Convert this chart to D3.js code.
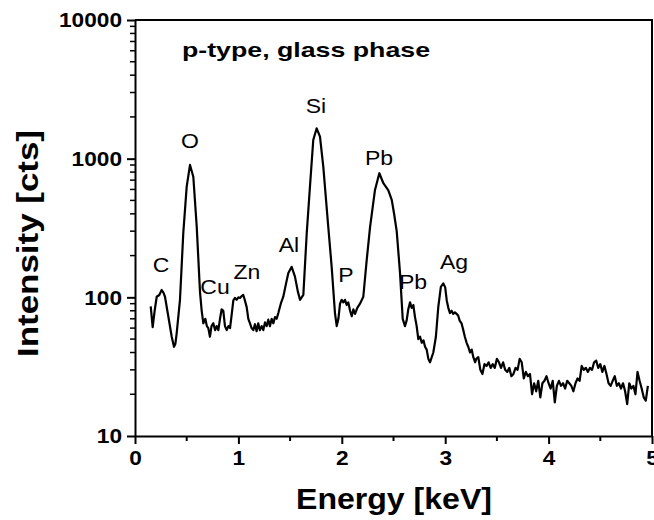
<!DOCTYPE html>
<html><head><meta charset="utf-8">
<script src="https://cdn.jsdelivr.net/npm/d3@7"></script>
<style>body{margin:0;background:#fff;} text{font-family:Arial,"Liberation Sans",sans-serif;}</style>
</head><body><svg id="c" width="654" height="520"></svg>
<script>
const energy = [0.152,0.171,0.19,0.21,0.235,0.258,0.275,0.29,0.322,0.355,0.377,0.39,0.403,0.435,0.467,0.5,0.532,0.564,0.597,0.629,0.645,0.661,0.68,0.695,0.709,0.725,0.74,0.757,0.775,0.79,0.806,0.822,0.838,0.854,0.87,0.887,0.903,0.919,0.935,0.951,0.967,0.983,1.0,1.015,1.031,1.047,1.063,1.08,1.096,1.112,1.128,1.144,1.16,1.176,1.192,1.208,1.225,1.241,1.257,1.273,1.289,1.305,1.322,1.338,1.354,1.37,1.386,1.41,1.434,1.46,1.483,1.515,1.547,1.575,1.596,1.628,1.661,1.692,1.724,1.757,1.789,1.821,1.869,1.902,1.934,1.951,1.967,1.983,1.999,2.015,2.031,2.047,2.063,2.08,2.096,2.112,2.128,2.15,2.176,2.208,2.241,2.273,2.321,2.363,2.402,2.45,2.483,2.505,2.531,2.563,2.589,2.611,2.627,2.643,2.66,2.676,2.692,2.708,2.724,2.74,2.757,2.773,2.79,2.805,2.821,2.837,2.853,2.885,2.91,2.933,2.958,2.982,3.0,3.015,3.03,3.046,3.062,3.078,3.094,3.11,3.125,3.14,3.158,3.175,3.19,3.207,3.223,3.24,3.256,3.272,3.29,3.30,3.32,3.34,3.36,3.38,3.40,3.42,3.44,3.46,3.48,3.50,3.52,3.54,3.56,3.58,3.60,3.62,3.64,3.66,3.68,3.70,3.72,3.74,3.76,3.78,3.80,3.82,3.84,3.86,3.88,3.90,3.92,3.94,3.96,3.98,4.00,4.02,4.04,4.06,4.08,4.10,4.12,4.14,4.16,4.18,4.20,4.22,4.24,4.26,4.28,4.30,4.32,4.34,4.36,4.38,4.40,4.42,4.44,4.46,4.48,4.50,4.52,4.54,4.56,4.58,4.60,4.62,4.64,4.66,4.68,4.70,4.72,4.74,4.76,4.78,4.80,4.82,4.84,4.86,4.88,4.90,4.92,4.94,4.96,4.98,5.00];
const counts = [86,61,80,101,104,113,108,101,73,52,44,46,55,96,291,628,901,741,323,108,80,65,70,62,60,52,62,65,58,62,58,70,82,80,62,58,62,60,75,95,99,96,100,99,102,104,95,85,70,65,60,58,64,57,65,58,62,58,66,62,69,62,70,65,72,70,77,90,101,125,150,166,141,110,96,104,291,628,1364,1656,1442,876,323,166,77,62,70,90,96,92,96,88,92,80,73,82,76,84,90,101,186,320,595,785,665,590,504,404,300,150,70,62,68,82,92,84,88,72,62,50,52,47,49,44,42,36,34,40,52,85,119,126,118,95,84,77,80,76,78,76,74,68,65,58,52,47,44,40,42,37,34,36,37,30,28,33,32,34,31,33,31,36,34,31,34,30,29,31,27,28,31,30,36,34,26,29,27,28,20,24,21,25,19,24,25,27,24,22,25,17.5,23,25,23,24,22,25,24,23,21,24,26,25,32,30,31,29,31,30,34,35,31,33,29,32,28,24,23,25,27,23,24,22,24,21,17,24,22,23,20,29,25,22,19,18,23];
const peakLabels = ["C","O","Cu","Zn","Al","Si","P","Pb","Pb","Ag"];
const peakEnergy = [0.251,0.532,0.774,1.083,1.489,1.750,2.041,2.360,2.689,3.085];
const peakCounts = [152,1190,106,135,212,2130,130,900,115,160];
const xTicks = [0,1,2,3,4,5];
const yTicks = [10,100,1000,10000];
const title = "p-type, glass phase";

const svg = d3.select("#c");
const L=135, R=652, T=20, B=436;
const x = d3.scaleLinear().domain([0,5]).range([L,R]);
const y = d3.scaleLog().domain([10,10000]).range([B,T]);

svg.append("clipPath").attr("id","cp").append("rect").attr("x",L).attr("y",T).attr("width",R-L).attr("height",B-T);

const line = d3.line().x((d,i)=>x(energy[i])).y((d,i)=>y(counts[i]));
svg.append("path").datum(counts).attr("d",line).attr("fill","none").attr("stroke","#000")
  .attr("stroke-width",2.2).attr("stroke-linejoin","round").attr("clip-path","url(#cp)");

// frame
svg.append("path").attr("d",`M${L},${T}H${R}V${B}`).attr("fill","none").attr("stroke","#000").attr("stroke-width",2);

function stretch(sel, perChar){
  sel.each(function(){
    const t=d3.select(this); const n=t.text().length;
    t.attr("textLength", n*perChar).attr("lengthAdjust","spacingAndGlyphs");
  });
}

// x axis
const minorX = d3.range(0.5,5,1);
const xa = svg.append("g").attr("transform",`translate(0,${B})`)
  .call(d3.axisBottom(x).tickValues(xTicks).tickFormat(d3.format("d")).tickSizeInner(8).tickSizeOuter(0).tickPadding(6));
xa.select(".domain").attr("stroke-width",2);
xa.selectAll(".tick line").attr("stroke-width",2);
xa.selectAll("text").attr("font-size",21).attr("font-weight","bold").attr("fill","#000");
stretch(xa.selectAll("text"),12.6);
svg.append("g").attr("transform",`translate(0,${B})`).selectAll("line").data(minorX).join("line")
  .attr("x1",d=>x(d)).attr("x2",d=>x(d)).attr("y1",0).attr("y2",5).attr("stroke","#000").attr("stroke-width",2);

// y axis
const ya = svg.append("g").attr("transform",`translate(${L},0)`)
  .call(d3.axisLeft(y).tickValues(yTicks).tickFormat(d3.format("d")).tickSizeInner(8).tickSizeOuter(0).tickPadding(5));
ya.select(".domain").attr("stroke-width",2);
ya.selectAll(".tick line").attr("stroke-width",2);
ya.selectAll("text").attr("font-size",21).attr("font-weight","bold").attr("fill","#000");
stretch(ya.selectAll("text"),12.6);
const minorY = [];
[10,100,1000].forEach(dec=>{for(let k=2;k<=9;k++) minorY.push(dec*k);});
svg.append("g").attr("transform",`translate(${L},0)`).selectAll("line").data(minorY).join("line")
  .attr("x1",-5).attr("x2",0).attr("y1",d=>y(d)).attr("y2",d=>y(d)).attr("stroke","#000").attr("stroke-width",1.5);

// titles
svg.append("text").attr("x",296).attr("y",509)
  .attr("font-size",29).attr("font-weight","bold").attr("textLength",196).attr("lengthAdjust","spacingAndGlyphs").text("Energy [keV]");
svg.append("text").attr("transform","translate(38,357) rotate(-90)")
  .attr("font-size",30).attr("font-weight","bold").attr("textLength",227).attr("lengthAdjust","spacingAndGlyphs").text("Intensity [cts]");
svg.append("text").attr("x",182).attr("y",57).attr("font-size",21).attr("font-weight","bold")
  .attr("textLength",248).attr("lengthAdjust","spacingAndGlyphs").text(title);

// peak labels
svg.append("g").selectAll("text").data(peakLabels).join("text")
  .attr("transform",(d,i)=>`translate(${x(peakEnergy[i])},${y(peakCounts[i])}) scale(1.15,1)`)
  .attr("text-anchor","middle").attr("font-size",20).text(d=>d);
</script></body></html>
